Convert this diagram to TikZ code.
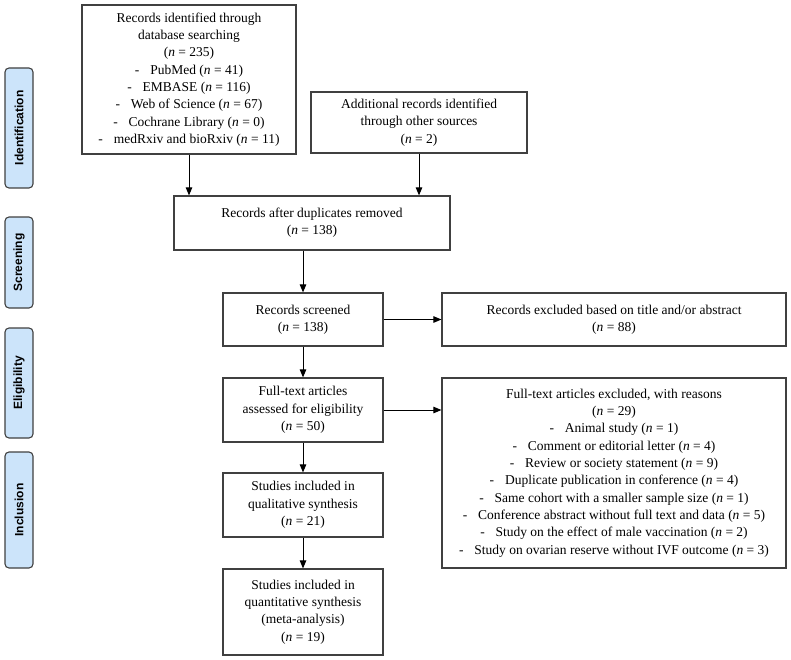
\documentclass[tikz,border=0pt]{standalone}
\usepackage{fontspec}
\setmainfont{Liberation Serif}
\setsansfont{Liberation Sans}
\usetikzlibrary{arrows.meta}
\definecolor{boxline}{RGB}{64,64,64}
\definecolor{phasefill}{RGB}{204,228,250}
\begin{document}
\begin{tikzpicture}[x=1pt,y=-1pt,
  flowbox/.style={draw=boxline,line width=1.2pt,fill=white,align=center,inner sep=2pt,
    font=\fontsize{13.5}{17.3}\selectfont},
  phase/.style={draw=boxline,line width=1.1pt,fill=phasefill,rounded corners=4pt,rotate=90,
    minimum height=28pt,inner sep=0pt,font=\sffamily\bfseries\fontsize{12}{14}\selectfont},
  flowarrow/.style={-{Triangle[length=8pt,width=6.5pt]},line width=1pt,black}]
\useasboundingbox (0,0) rectangle (791,660);
% phase labels
\node[phase,minimum width=120pt] (p1) at (19,128) {Identification};
\node[phase,minimum width=91pt] (p2) at (19,262.5) {Screening};
\node[phase,minimum width=110pt] (p3) at (19,383) {Eligibility};
\node[phase,minimum width=116pt] (p4) at (19,510) {Inclusion};
% boxes
\node[flowbox,minimum width=214pt,minimum height=149pt] (A) at (189,79.5)
  {Records identified through\\database searching\\(\textit{n} = 235)\\
   -\hspace{0.8em}PubMed (\textit{n} = 41)\\
   -\hspace{0.8em}EMBASE (\textit{n} = 116)\\
   -\hspace{0.8em}Web of Science (\textit{n} = 67)\\
   -\hspace{0.8em}Cochrane Library (\textit{n} = 0)\\
   -\hspace{0.8em}medRxiv and bioRxiv (\textit{n} = 11)};
\node[flowbox,minimum width=216pt,minimum height=61pt] (B) at (419,122.5)
  {Additional records identified\\through other sources\\(\textit{n} = 2)};
\node[flowbox,minimum width=276pt,minimum height=54pt] (C) at (312,223)
  {Records after duplicates removed\\(\textit{n} = 138)};
\node[flowbox,minimum width=160pt,minimum height=53pt] (D) at (303,319.5)
  {Records screened\\(\textit{n} = 138)};
\node[flowbox,minimum width=344pt,minimum height=53pt] (E) at (614,319.5)
  {Records excluded based on title and/or abstract\\(\textit{n} = 88)};
\node[flowbox,minimum width=160pt,minimum height=64pt] (F) at (303,410)
  {Full-text articles\\assessed for eligibility\\(\textit{n} = 50)};
\node[flowbox,minimum width=344pt,minimum height=190pt] (G) at (614,473)
  {Full-text articles excluded, with reasons\\(\textit{n} = 29)\\
   -\hspace{0.8em}Animal study (\textit{n} = 1)\\
   -\hspace{0.8em}Comment or editorial letter (\textit{n} = 4)\\
   -\hspace{0.8em}Review or society statement (\textit{n} = 9)\\
   -\hspace{0.8em}Duplicate publication in conference (\textit{n} = 4)\\
   -\hspace{0.8em}Same cohort with a smaller sample size (\textit{n} = 1)\\
   -\hspace{0.8em}Conference abstract without full text and data (\textit{n} = 5)\\
   -\hspace{0.8em}Study on the effect of male vaccination (\textit{n} = 2)\\
   -\hspace{0.8em}Study on ovarian reserve without IVF outcome (\textit{n} = 3)};
\node[flowbox,minimum width=160pt,minimum height=64pt] (H) at (303,505)
  {Studies included in\\qualitative synthesis\\(\textit{n} = 21)};
\node[flowbox,minimum width=160pt,minimum height=86pt] (I) at (303,612)
  {Studies included in\\quantitative synthesis\\(meta-analysis)\\(\textit{n} = 19)};
% connectors
\draw[flowarrow] (A.south) -- (A.south |- C.north);
\draw[flowarrow] (B.south) -- (B.south |- C.north);
\draw[flowarrow] (C.south -| D.north) -- (D.north);
\draw[flowarrow] (D.east) -- (D.east -| E.west);
\draw[flowarrow] (D.south) -- (F.north);
\draw[flowarrow] (F.east) -- (F.east -| G.west);
\draw[flowarrow] (F.south) -- (H.north);
\draw[flowarrow] (H.south) -- (I.north);
\end{tikzpicture}
\end{document}
